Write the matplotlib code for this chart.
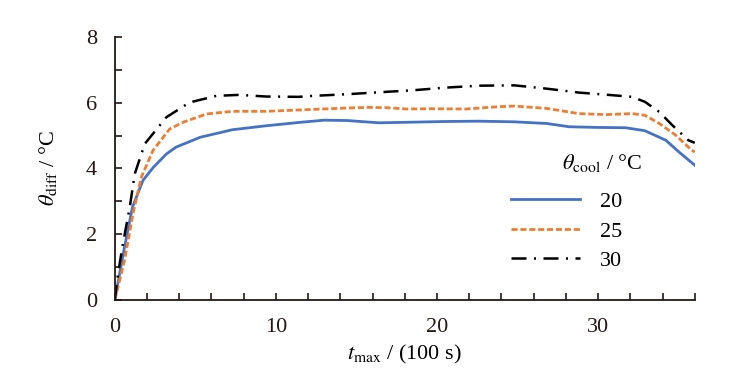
import matplotlib.pyplot as plt
from matplotlib.ticker import MultipleLocator

plt.rcParams['font.family'] = ['Liberation Serif', 'DejaVu Serif']
plt.rcParams['mathtext.fontset'] = 'stix'

# series (t_max in 100 s, theta_diff in deg C)
x_20 = [0, 0.6, 1.1, 1.75, 2.4, 3.2, 3.8, 5.3, 7.3, 9.4, 11.4, 13.0, 14.4, 16.4, 18.5,
        20.5, 22.6, 24.8, 26.8, 28.2, 29.9, 31.7, 32.9, 34.2, 35.0, 36.0]
y_20 = [0, 1.6, 2.83, 3.64, 4.04, 4.44, 4.65, 4.95, 5.18, 5.3, 5.4, 5.47, 5.46, 5.39, 5.41,
        5.43, 5.44, 5.42, 5.37, 5.27, 5.25, 5.24, 5.15, 4.86, 4.51, 4.1]

x_25 = [0, 0.2, 0.6, 1.13, 1.65, 2.37, 3.4, 4.2, 5.7, 7.3, 9.4, 11.4, 14.4, 15.8, 16.9,
        18.1, 19.5, 21.8, 23.8, 24.8, 26.8, 28.8, 30.5, 32.1, 32.9, 33.8, 34.8, 35.8, 36.0]
y_25 = [0, 0.4, 1.2, 2.63, 3.74, 4.55, 5.2, 5.4, 5.66, 5.74, 5.74, 5.78, 5.84, 5.86, 5.85,
        5.81, 5.82, 5.81, 5.88, 5.9, 5.83, 5.67, 5.64, 5.67, 5.62, 5.37, 5.02, 4.56, 4.5]

x_30 = [0, 0.2, 0.5, 0.93, 1.24, 1.86, 3.2, 4.64, 6.3, 7.7, 9.4, 11.4, 12.3, 14.4, 16.4,
        18.5, 20.5, 22.6, 24.8, 26.8, 28.8, 30.9, 32.1, 32.9, 33.8, 34.6, 35.6, 36.0]
y_30 = [0, 0.8, 1.7, 2.83, 3.84, 4.75, 5.56, 6.01, 6.21, 6.24, 6.19, 6.18, 6.21, 6.26, 6.32,
        6.38, 6.46, 6.52, 6.53, 6.43, 6.31, 6.23, 6.18, 6.03, 5.72, 5.32, 4.86, 4.78]

labels = ['20', '25', '30']

fig = plt.figure(figsize=(7.36, 3.86), dpi=100)
ax = fig.add_axes([0.156, 0.223, 0.788, 0.681])

ax.plot(x_20, y_20, color='#4472C4', lw=2.0, label=labels[0])
ax.plot(x_25, y_25, color='#ED7D31', lw=2.0, ls=(0, (2.2, 1.0)), label=labels[1])
ax.plot(x_30, y_30, color='black', lw=1.8, ls=(0, (6, 3, 0.8, 3)), label=labels[2])

ax.set_xlim(0, 36)
ax.set_ylim(0, 8)
ax.xaxis.set_major_locator(MultipleLocator(10))
ax.xaxis.set_minor_locator(MultipleLocator(2))
ax.yaxis.set_major_locator(MultipleLocator(2))
ax.yaxis.set_minor_locator(MultipleLocator(1))
ax.tick_params(which='both', direction='in', length=5, width=1.2, labelsize=16, colors='#231815')
ax.tick_params(axis='x', pad=13)
ax.tick_params(axis='y', pad=13)

for side in ['top', 'right']:
    ax.spines[side].set_visible(False)
for side in ['left', 'bottom']:
    ax.spines[side].set_linewidth(1.3)
    ax.spines[side].set_color('#231815')

ax.set_xlabel(r'$t_{\mathrm{max}}$ / (100 s)', fontsize=16, labelpad=4)
ax.set_ylabel(r'$\theta_{\mathrm{diff}}$ / °C', fontsize=16, labelpad=19)

ax.legend(loc='lower right', bbox_to_anchor=(0.875, 0.11), frameon=False, fontsize=16,
          handlelength=3.1, handletextpad=0.9, labelspacing=0.4, borderpad=0, borderaxespad=0)
ax.text(0.91, 0.52, r'$\theta_{\mathrm{cool}}$ / °C', transform=ax.transAxes,
        ha='right', va='center', fontsize=16)

fig.savefig('out.png', dpi=100)
